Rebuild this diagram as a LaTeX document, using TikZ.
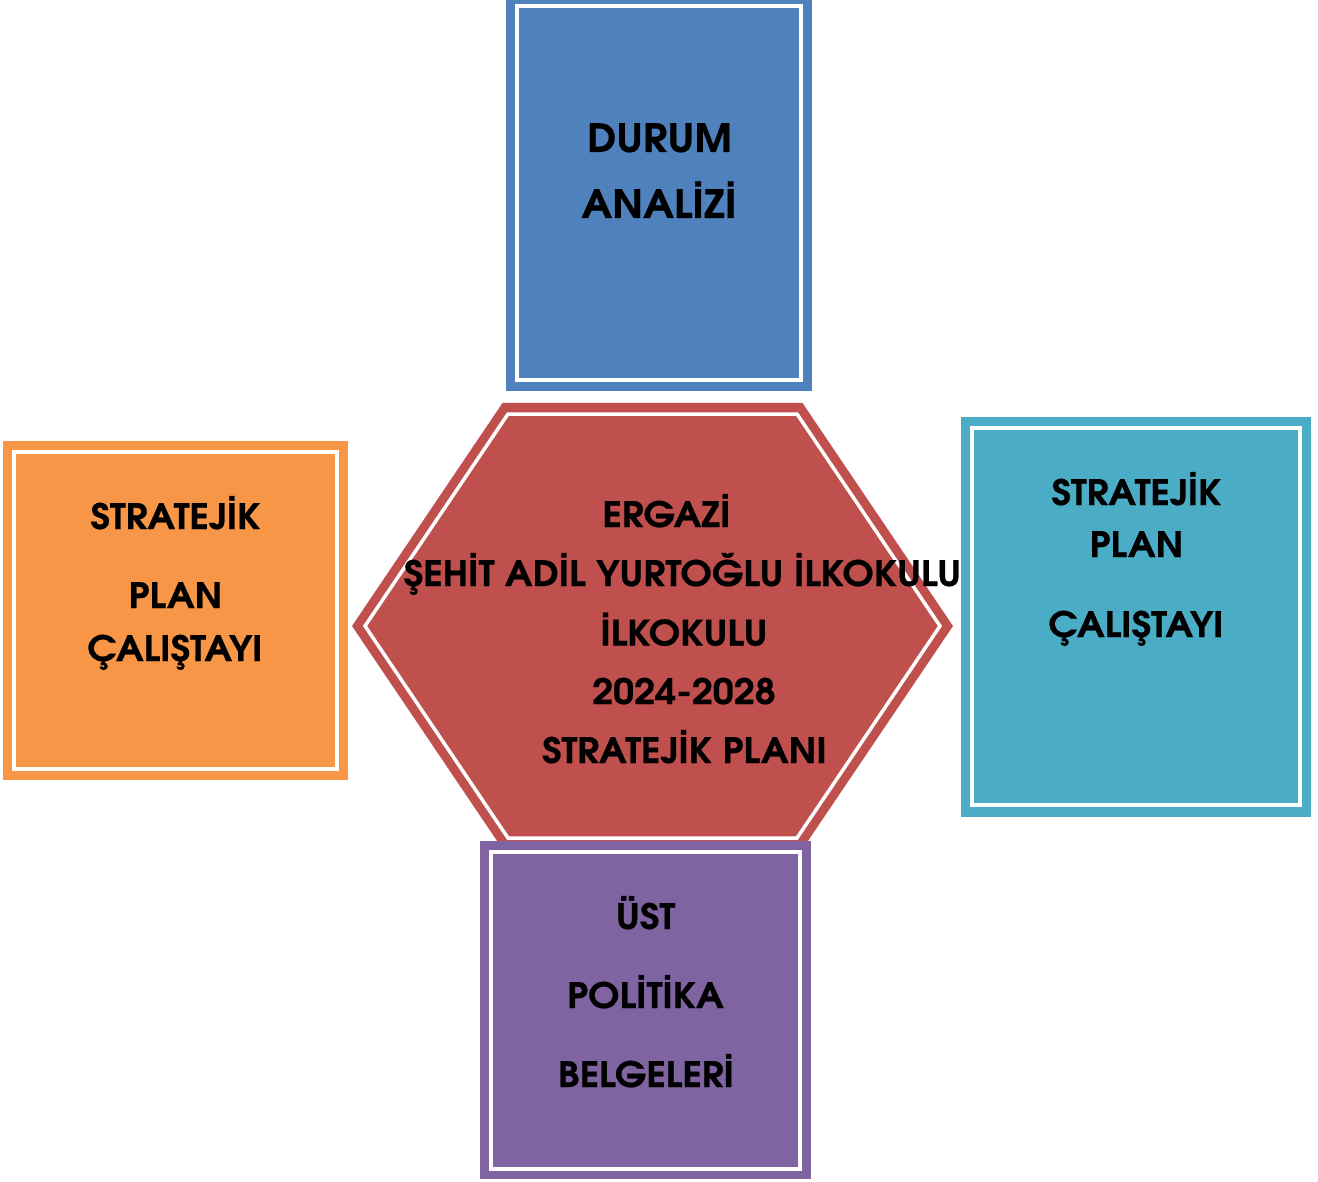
\documentclass[tikz,border=0pt]{standalone}
\usepackage{fontspec}
\setmainfont{TeX Gyre Adventor}[FakeStretch=1.07, BoldFeatures={FakeBold=0.6}]
\definecolor{cblue}{HTML}{4F81BD}
\definecolor{corange}{HTML}{F79646}
\definecolor{cteal}{HTML}{4BACC6}
\definecolor{cpurple}{HTML}{8064A2}
\definecolor{cred}{HTML}{C0504D}
\tikzset{
  inline/.style={draw=white, line width=4pt},
  lbl/.style={anchor=base, inner sep=0pt, text=black, font=\fontsize{35}{40}\selectfont\bfseries},
  biglbl/.style={lbl, font=\fontsize{39}{44}\selectfont\bfseries},
}
\begin{document}
\begin{tikzpicture}[x=1pt, y=-1pt]
\useasboundingbox (0,0) rectangle (1318,1182);
% blue box
\fill[cblue] (506,0) rectangle (812,391);
\draw[inline] (517,6) rectangle (801,380);
% orange box
\fill[corange] (3,441) rectangle (348,780);
\draw[inline] (14,452) rectangle (337,769);
% teal box
\fill[cteal] (961,417) rectangle (1311,817);
\draw[inline] (972,428) rectangle (1300,805);
% hexagon
\fill[cred] (352,626) -- (502.5,403) -- (802.5,403) -- (953,626) -- (802.5,849) -- (502.5,849) -- cycle;
\draw[draw=white, line width=3.5pt, line join=miter] (365,626) -- (508,414) -- (797,414) -- (940,626) -- (797,838) -- (508,838) -- cycle;
% purple box
\fill[cpurple] (480,841) rectangle (811,1179);
\draw[inline] (491,852) rectangle (800,1169);
% texts
\node[biglbl] (d1) at (659.5,152) {DURUM};
\node[biglbl] (d2) at (659,218) {ANALİZİ};
\node[lbl] (o1) at (175.5,529) {STRATEJİK};
\node[lbl] (o2) at (175.5,608) {PLAN};
\node[lbl] (o3) at (175,661) {ÇALIŞTAYI};
\node[lbl] (t1) at (1136.5,505) {STRATEJİK};
\node[lbl] (t2) at (1136.5,557) {PLAN};
\node[lbl] (t3) at (1136,637) {ÇALIŞTAYI};
\node[lbl] (p1) at (645.5,929) {ÜST};
\node[lbl] (p2) at (645.5,1008) {POLİTİKA};
\node[lbl] (p3) at (646,1087) {BELGELERİ};
\node[lbl] (h1) at (666.5,527) {ERGAZİ};
\node[lbl] (h2) at (682.5,586) {ŞEHİT ADİL YURTOĞLU İLKOKULU};
\node[lbl] (h3) at (684,645.5) {İLKOKULU};
\node[lbl] (h4) at (684,704) {2024-2028};
\node[lbl] (h5) at (684.5,763) {STRATEJİK PLANI};
\end{tikzpicture}
\end{document}
